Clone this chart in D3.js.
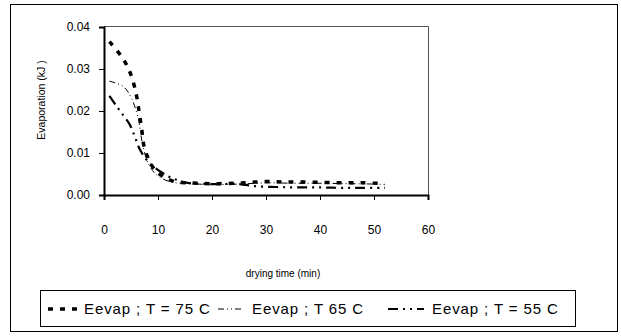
<!DOCTYPE html>
<html lang="en">
<head>
  <meta charset="UTF-8">
  <title>Evaporation vs drying time</title>
  <script src="https://d3js.org/d3.v7.min.js"></script>
  <style>
    body { margin: 0; padding: 0; background: #fff; font-family: "Liberation Sans", Arial, sans-serif; }
    .axis text { font-size: 12px; fill: #000; font-family: "Liberation Sans", Arial, sans-serif; }
    .axis path, .axis line { stroke: #000; }
  </style>
</head>
<body>
  <div id="chart"></div>
  <script>
    // readings
    const time75 = [1, 3.5, 5, 6, 6.5, 7, 7.5, 9, 10.5, 13, 16, 20, 24, 27, 30, 33, 36, 40, 44, 48, 52];
    const evap75 = [0.0365, 0.0325, 0.0286, 0.0238, 0.0198, 0.0155, 0.0112, 0.0067, 0.0048, 0.0032, 0.0029, 0.0027, 0.0028, 0.0030, 0.0032, 0.0031, 0.0031, 0.0030, 0.0029, 0.0029, 0.0027];

    const time65 = [1, 3.6, 5.1, 6.4, 7, 8.2, 10, 12.5, 16, 20, 25, 30, 35, 40, 45, 50, 52];
    const evap65 = [0.0271, 0.0258, 0.0230, 0.0179, 0.0131, 0.0075, 0.0045, 0.0031, 0.0027, 0.0025, 0.0026, 0.0029, 0.0028, 0.0028, 0.0027, 0.0026, 0.0025];

    const time55 = [1, 2.3, 3.6, 4.8, 5.7, 6.7, 8.5, 12, 15, 20, 25, 28, 32, 36, 40, 44, 48, 52];
    const evap55 = [0.0236, 0.0212, 0.0189, 0.0167, 0.0139, 0.0107, 0.0075, 0.0044, 0.0030, 0.0026, 0.0026, 0.0021, 0.0019, 0.0018, 0.0018, 0.0017, 0.0017, 0.0017];

    const xTicks = [0, 10, 20, 30, 40, 50, 60];
    const yTicks = [0, 0.01, 0.02, 0.03, 0.04];
    const seriesNames = ["Eevap ; T = 75 C", "Eevap ; T 65 C", "Eevap ; T = 55 C"];

    const W = 621, H = 336;
    const svg = d3.select("#chart").append("svg")
      .attr("width", W).attr("height", H);

    // outer chart frame
    svg.append("rect")
      .attr("x", 10.5).attr("y", 4.5)
      .attr("width", 607).attr("height", 327)
      .attr("fill", "none").attr("stroke", "#000").attr("stroke-width", 1);

    const x = d3.scaleLinear().domain([0, 60]).range([104, 428]);
    const y = d3.scaleLinear().domain([0, 0.04]).range([195, 27]);

    // plot area border (top and right)
    svg.append("path")
      .attr("d", `M${x(0)},${y(0.04) - 0.5}H${x(60) + 0.5}V${y(0)}`)
      .attr("fill", "none").attr("stroke", "#555").attr("stroke-width", 1);

    svg.append("g")
      .attr("class", "x axis")
      .attr("transform", `translate(0,${y(0)})`)
      .call(d3.axisBottom(x).tickValues(xTicks).tickSize(5).tickPadding(25).tickFormat(d3.format("d")))
      .call(g => g.select(".domain").attr("stroke-width", 2));

    svg.append("g")
      .attr("class", "y axis")
      .attr("transform", `translate(${x(0)},0)`)
      .call(d3.axisLeft(y).tickValues(yTicks).tickSize(5).tickPadding(9).tickFormat(d3.format(".2f")))
      .call(g => g.select(".domain").attr("stroke-width", 2));

    svg.append("text")
      .attr("transform", "translate(45,100) rotate(-90)")
      .attr("text-anchor", "middle")
      .attr("font-size", 10.5)
      .text("Evaporation (kJ )");

    svg.append("text")
      .attr("x", 283).attr("y", 277)
      .attr("text-anchor", "middle")
      .attr("font-size", 10)
      .text("drying time (min)");

    const styles = [
      { width: 3.5, dash: "5,7" },
      { width: 1, dash: "6,3,1,3,1,3" },
      { width: 2.2, dash: "10,5,2,5,2,5" }
    ];

    const series = [
      d3.zip(time75, evap75),
      d3.zip(time65, evap65),
      d3.zip(time55, evap55)
    ];

    const line = d3.line()
      .x(d => x(d[0]))
      .y(d => y(d[1]))
      .curve(d3.curveCatmullRom.alpha(0.5));

    series.forEach((s, i) => {
      svg.append("path")
        .datum(s)
        .attr("d", line)
        .attr("fill", "none")
        .attr("stroke", "#000")
        .attr("stroke-width", styles[i].width)
        .attr("stroke-dasharray", styles[i].dash);
    });

    // legend
    const legend = svg.append("g");
    legend.append("rect")
      .attr("x", 40.5).attr("y", 290.5)
      .attr("width", 535).attr("height", 36)
      .attr("fill", "#fff").attr("stroke", "#000").attr("stroke-width", 1);

    const legendX = [[48, 80, 84], [218, 244, 252], [388, 424, 432]];
    seriesNames.forEach((name, i) => {
      const [x0, x1, tx] = legendX[i];
      legend.append("line")
        .attr("x1", x0).attr("x2", x1)
        .attr("y1", 309).attr("y2", 309)
        .attr("stroke", "#000")
        .attr("stroke-width", styles[i].width)
        .attr("stroke-dasharray", styles[i].dash);
      legend.append("text")
        .attr("x", tx).attr("y", 314)
        .attr("font-size", 15)
        .attr("letter-spacing", 0.9)
        .text(name);
    });
  </script>
</body>
</html>
